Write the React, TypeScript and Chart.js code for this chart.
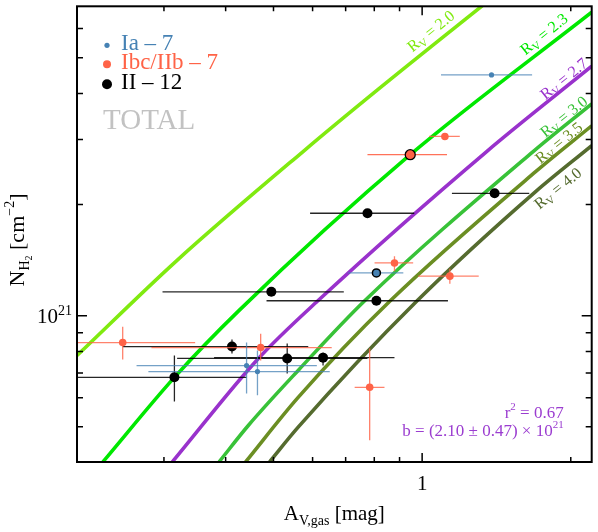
import React, { useEffect, useRef } from "react";
import { Chart, registerables } from "chart.js";
Chart.register(...registerables);

// ---------- axis limits & ticks ----------
const xLimits = [0.2, 2.205];
const yLimits = [4.016e20, 6.89e21];
const xMajorTicks = [1];
const xMinorTicks = [0.3, 0.4, 0.5, 0.6, 0.7, 0.8, 0.9, 2];
const yMajorTicks = [1e21];
const yMinorTicks = [5e20, 6e20, 7e20, 8e20, 9e20, 2e21, 3e21, 4e21, 5e21, 6e21];
const xTickLabels = ["1"];

// ---------- legend ----------
const seriesNames = ["Ia – 7", "Ibc/IIb – 7", "II – 12"];
const totalLabel = "TOTAL";

// ---------- Type Ia ----------
const iaX = [1.382, 0.441, 0.464];
const iaXLo = [1.092, 0.264, 0.279];
const iaXHi = [1.67, 0.612, 0.65];
const iaY = [4.49e21, 7.33e20, 7.06e20];
const iaYLo = [4.49e21, 6.16e20, 6.09e20];
const iaYHi = [4.49e21, 8.46e20, 8.05e20];
// highlighted Ia
const iaHiX = [0.808];
const iaHiXLo = [0.707];
const iaHiXHi = [0.916];
const iaHiY = [1.306e21];
const iaHiYLo = [1.28e21];
const iaHiYHi = [1.33e21];

// ---------- Type Ibc/IIb ----------
const ibcX = [1.112, 0.879, 1.138, 0.783, 0.2475, 0.471];
const ibcXLo = [1.033, 0.801, 0.982, 0.73, 0.19, 0.283];
const ibcXHi = [1.192, 0.959, 1.302, 0.839, 0.347, 0.656];
const ibcY = [3.06e21, 1.39e21, 1.28e21, 6.4e20, 8.46e20, 8.2e20];
const ibcYLo = [3.06e21, 1.32e21, 1.22e21, 4.6e20, 7.61e20, 7.56e20];
const ibcYHi = [3.06e21, 1.45e21, 1.34e21, 8.15e20, 9.34e20, 8.94e20];
// highlighted Ibc
const ibcHiX = [0.946];
const ibcHiXLo = [0.775];
const ibcHiXHi = [1.123];
const ibcHiY = [2.73e21];
const ibcHiYLo = [2.73e21];
const ibcHiYHi = [2.73e21];

// ---------- Type II ----------
const iiX = [1.402, 0.775, 0.808, 0.495, 0.412, 0.533, 0.63, 0.315];
const iiXLo = [1.149, 0.593, 0.484, 0.298, 0.2475, 0.319, 0.379, 0.19];
const iiXHi = [1.648, 0.964, 1.128, 0.694, 0.588, 0.775, 0.879, 0.441];
const iiY = [2.146e21, 1.895e21, 1.098e21, 1.161e21, 8.25e20, 7.66e20, 7.7e20, 6.81e20];
const iiYLo = [2.146e21, 1.895e21, 1.08e21, 1.161e21, 7.9e20, 6.98e20, 7.33e20, 5.86e20];
const iiYHi = [2.146e21, 1.895e21, 1.115e21, 1.161e21, 8.62e20, 8.41e20, 7.95e20, 7.8e20];

// ---------- R_V curves ----------
const rvValues = ["2.0", "2.3", "2.7", "3.0", "3.5", "4.0"];
const rv20X = [0.2, 0.3177, 0.574, 0.812, 1.414];
const rv20Y = [7.8e20, 1.406e21, 2.785e21, 4.09e21, 7.42e21];
const rv23X = [0.2257, 0.315, 0.425, 0.946, 2.205];
const rv23Y = [4.02e20, 6.81e20, 1.031e21, 2.73e21, 6.64e21];
const rv27X = [0.312, 0.466, 0.615, 1.351, 2.205];
const rv27Y = [4.02e20, 7.66e20, 1.098e21, 2.785e21, 4.74e21];
const rv30X = [0.388, 0.445, 0.561, 0.765, 1.678, 2.205];
const rv30Y = [4.02e20, 5.05e20, 7.11e20, 1.098e21, 2.785e21, 3.75e21];
const rv35X = [0.439, 0.561, 0.862, 1.7, 2.205];
const rv35Y = [4.02e20, 6.01e20, 1.098e21, 2.46e21, 3.27e21];
const rv40X = [0.491, 0.561, 0.977, 1.7, 2.205];
const rv40Y = [4.02e20, 4.99e20, 1.098e21, 2.173e21, 2.89e21];
// label anchors (data coordinates)
const rvLabelX = [1.0425, 1.766, 1.937, 1.937, 1.893, 1.884];
const rvLabelY = [5.9e21, 5.79e21, 4.38e21, 3.46e21, 2.94e21, 2.213e21];

// ---------- fit annotation ----------
const fitR2 = "0.67";
const fitB = "(2.10 ± 0.47) × 10";
const fitBExp = "21";

const FONT = "'Liberation Serif', 'Times New Roman', serif";
const rvColors = ["#80ea10", "#00e800", "#9932cc", "#38c238", "#6b8e23", "#556b2f"];
const IA = "#4682b4";
const IBC = "#ff6347";

type Seg = { t: string; size: number; dy?: number };

function drawRich(ctx: CanvasRenderingContext2D, segs: Seg[], x: number, y: number, align: string, color: string) {
  ctx.fillStyle = color;
  ctx.textBaseline = "alphabetic";
  ctx.textAlign = "left";
  let total = 0;
  const ws = segs.map((s) => {
    ctx.font = `${s.size}px ${FONT}`;
    const w = ctx.measureText(s.t).width;
    total += w;
    return w;
  });
  let cx = align === "left" ? x : align === "right" ? x - total : x - total / 2;
  segs.forEach((s, i) => {
    ctx.font = `${s.size}px ${FONT}`;
    ctx.fillText(s.t, cx, y + (s.dy || 0));
    cx += ws[i];
  });
}

function zip(xs: number[], ys: number[]) {
  return xs.map((x, i) => ({ x, y: ys[i] }));
}

const overlayPlugin = {
  id: "overlay",
  beforeDatasetDraw(chart: any, args: any) {
    const ds = chart.data.datasets[args.index];
    const e = ds.err;
    if (!e) return;
    const { ctx, chartArea: a } = chart;
    const xs = chart.scales.x;
    const ys = chart.scales.y;
    ctx.save();
    ctx.beginPath();
    ctx.rect(a.left, a.top, a.right - a.left, a.bottom - a.top);
    ctx.clip();
    ctx.strokeStyle = e.color;
    ctx.lineWidth = 1.3;
    for (let i = 0; i < e.x.length; i++) {
      const px = xs.getPixelForValue(e.x[i]);
      const py = ys.getPixelForValue(e.y[i]);
      ctx.beginPath();
      ctx.moveTo(xs.getPixelForValue(e.xLo[i]), py);
      ctx.lineTo(xs.getPixelForValue(e.xHi[i]), py);
      if (e.yLo[i] !== e.yHi[i]) {
        ctx.moveTo(px, ys.getPixelForValue(e.yLo[i]));
        ctx.lineTo(px, ys.getPixelForValue(e.yHi[i]));
      }
      ctx.stroke();
    }
    ctx.restore();
  },
  afterDatasetsDraw(chart: any) {
    const { ctx, chartArea: a } = chart;
    const xs = chart.scales.x;
    const ys = chart.scales.y;
    ctx.save();
    // frame
    ctx.strokeStyle = "#000";
    ctx.lineWidth = 2;
    ctx.strokeRect(a.left, a.top, a.right - a.left, a.bottom - a.top);
    // ticks
    ctx.lineWidth = 1.5;
    const xt = (v: number, len: number) => {
      const p = xs.getPixelForValue(v);
      ctx.beginPath();
      ctx.moveTo(p, a.bottom);
      ctx.lineTo(p, a.bottom - len);
      ctx.moveTo(p, a.top);
      ctx.lineTo(p, a.top + len);
      ctx.stroke();
    };
    const yt = (v: number, len: number) => {
      const p = ys.getPixelForValue(v);
      ctx.beginPath();
      ctx.moveTo(a.left, p);
      ctx.lineTo(a.left + len, p);
      ctx.moveTo(a.right, p);
      ctx.lineTo(a.right - len, p);
      ctx.stroke();
    };
    xMajorTicks.forEach((v) => xt(v, 9));
    xMinorTicks.forEach((v) => xt(v, 5));
    yMajorTicks.forEach((v) => yt(v, 10));
    yMinorTicks.forEach((v) => yt(v, 6));

    // tick labels
    xMajorTicks.forEach((v, i) => {
      drawRich(ctx, [{ t: xTickLabels[i], size: 21 }], xs.getPixelForValue(v), a.bottom + 28, "center", "#000");
    });
    yMajorTicks.forEach((v) => {
      const exp = String(Math.round(Math.log10(v)));
      drawRich(ctx, [{ t: "10", size: 21 }, { t: exp, size: 14, dy: -8 }], a.left - 5, ys.getPixelForValue(v) + 7, "right", "#000");
    });

    // axis titles
    drawRich(
      ctx,
      [
        { t: "A", size: 21 },
        { t: "V,gas", size: 14, dy: 5 },
        { t: " [mag]", size: 21 },
      ],
      (a.left + a.right) / 2,
      520,
      "center",
      "#000"
    );
    ctx.save();
    ctx.translate(24, 240);
    ctx.rotate(-Math.PI / 2);
    drawRich(
      ctx,
      [
        { t: "N", size: 22 },
        { t: "H", size: 14, dy: 5 },
        { t: "2", size: 10, dy: 8 },
        { t: " [cm", size: 22 },
        { t: "−2", size: 14, dy: -10 },
        { t: "]", size: 22 },
      ],
      0,
      0,
      "center",
      "#000"
    );
    ctx.restore();

    // legend
    const lx = a.left + 30;
    const legendRows = [
      { c: IA, r: 2.6, y: a.top + 39 },
      { c: IBC, r: 4, y: a.top + 58 },
      { c: "#000", r: 5, y: a.top + 78 },
    ];
    legendRows.forEach((row, i) => {
      ctx.fillStyle = row.c;
      ctx.beginPath();
      ctx.arc(lx, row.y, row.r, 0, Math.PI * 2);
      ctx.fill();
      drawRich(ctx, [{ t: seriesNames[i], size: 23 }], lx + 14, row.y + 5, "left", row.c);
    });
    drawRich(ctx, [{ t: totalLabel, size: 29 }], lx - 4, a.top + 123, "left", "#c2c2c2");

    // R_V labels
    rvValues.forEach((v, i) => {
      const px = xs.getPixelForValue(rvLabelX[i]);
      const py = ys.getPixelForValue(rvLabelY[i]);
      ctx.save();
      ctx.translate(px, py);
      ctx.rotate((-39 * Math.PI) / 180);
      drawRich(
        ctx,
        [
          { t: "R", size: 16 },
          { t: "V", size: 11, dy: 3 },
          { t: " = " + v, size: 16 },
        ],
        0,
        5,
        "center",
        rvColors[i]
      );
      ctx.restore();
    });

    // fit annotation
    const fx = a.right - 28;
    drawRich(ctx, [{ t: "r", size: 17 }, { t: "2", size: 11, dy: -8 }, { t: " = " + fitR2, size: 17 }], fx, 418, "right", "#9b3dd0");
    drawRich(ctx, [{ t: "b = " + fitB, size: 17 }, { t: fitBExp, size: 11, dy: -8 }], fx, 436, "right", "#9b3dd0");

    ctx.restore();
  },
};

export default function App() {
  const ref = useRef<HTMLCanvasElement | null>(null);
  useEffect(() => {
    if (!ref.current) return;
    const curves = [
      [rv20X, rv20Y],
      [rv23X, rv23Y],
      [rv27X, rv27Y],
      [rv30X, rv30Y],
      [rv35X, rv35Y],
      [rv40X, rv40Y],
    ].map(([xs, ys], i) => ({
      type: "line" as const,
      label: "R_V = " + rvValues[i],
      data: zip(xs, ys),
      borderColor: rvColors[i],
      borderWidth: 3.6,
      pointRadius: 0,
      fill: false,
      cubicInterpolationMode: "monotone" as const,
      clip: 0,
      order: 10,
    }));
    const pts = (label: string, xs: number[], xl: number[], xh: number[], y: number[], yl: number[], yh: number[], style: any, errColor: string, order: number) => ({
      type: "scatter" as const,
      label,
      data: zip(xs, y),
      err: { x: xs, xLo: xl, xHi: xh, y, yLo: yl, yHi: yh, color: errColor },
      order,
      ...style,
    });
    const chart = new Chart(ref.current, {
      type: "scatter",
      data: {
        datasets: [
          ...curves,
          pts("II", iiX, iiXLo, iiXHi, iiY, iiYLo, iiYHi, { pointRadius: 5, pointBackgroundColor: "#000", pointBorderWidth: 0 }, "rgba(0,0,0,0.85)", 3),
          pts("Ibc/IIb", ibcX, ibcXLo, ibcXHi, ibcY, ibcYLo, ibcYHi, { pointRadius: 3.8, pointBackgroundColor: IBC, pointBorderWidth: 0 }, "rgba(255,99,71,0.8)", 2),
          pts("Ia", iaX, iaXLo, iaXHi, iaY, iaYLo, iaYHi, { pointRadius: 2.6, pointBackgroundColor: IA, pointBorderWidth: 0 }, "rgba(70,130,180,0.75)", 1),
          pts("Ibc/IIb hl", ibcHiX, ibcHiXLo, ibcHiXHi, ibcHiY, ibcHiYLo, ibcHiYHi, { pointRadius: 5, pointBackgroundColor: IBC, pointBorderColor: "#000", pointBorderWidth: 1.3 }, "rgba(255,99,71,0.9)", 0),
          pts("Ia hl", iaHiX, iaHiXLo, iaHiXHi, iaHiY, iaHiYLo, iaHiYHi, { pointRadius: 4, pointBackgroundColor: IA, pointBorderColor: "#000", pointBorderWidth: 1.5 }, "rgba(70,130,180,0.75)", 0),
        ] as any,
      },
      options: {
        responsive: false,
        devicePixelRatio: 1,
        animation: false,
        events: [],
        layout: { padding: { left: 77, top: 4, right: 2, bottom: 70 } },
        scales: {
          x: { type: "logarithmic", min: xLimits[0], max: xLimits[1], display: false, bounds: "data" },
          y: { type: "logarithmic", min: yLimits[0], max: yLimits[1], display: false, bounds: "data" },
        },
        plugins: { legend: { display: false }, tooltip: { enabled: false } },
      } as any,
      plugins: [overlayPlugin],
    });
    return () => chart.destroy();
  }, []);
  return (
    <div style={{ position: "absolute", left: 0, top: 0, width: 598, height: 532 }}>
      <canvas ref={ref} width={598} height={532} style={{ width: 598, height: 532, display: "block" }} />
    </div>
  );
}
